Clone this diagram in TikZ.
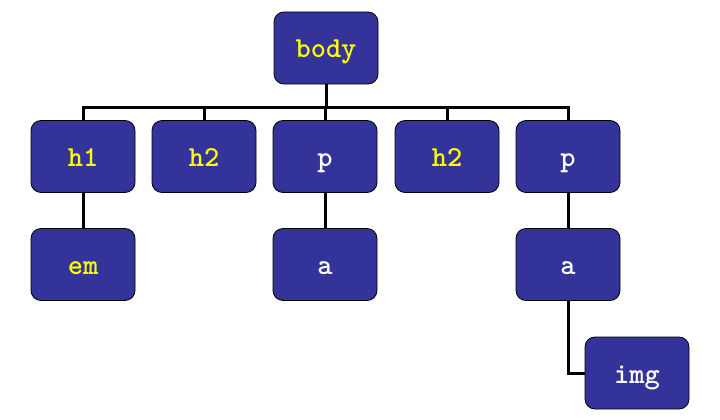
\documentclass[tikz,border=0pt]{standalone}
\usepackage{fontspec}
\definecolor{boxblue}{HTML}{333399}
\definecolor{txtyellow}{HTML}{FFFF00}
\tikzset{
  tag/.style={draw=black, line width=0.8pt, fill=boxblue, rounded corners=10pt,
    minimum width=104pt, minimum height=72pt, inner sep=0pt,
    text height=20pt, text depth=0pt,
    font=\ttfamily\bfseries\fontsize{29}{29}\selectfont},
  ytag/.style={tag, text=txtyellow},
  wtag/.style={tag, text=white},
  link/.style={line width=3pt, black}
}
\begin{document}
\begin{tikzpicture}[x=1pt,y=-1pt]
\useasboundingbox (0,0) rectangle (720,420);
\node[ytag] (body) at (326,48) {body};
\node[ytag] (h1) at (83,156.5) {h1};
\node[ytag] (h2a) at (204,156.5) {h2};
\node[wtag] (p1) at (325,156.5) {p};
\node[ytag] (h2b) at (447,156.5) {h2};
\node[wtag] (p2) at (568,156.5) {p};
\node[ytag] (em) at (83,264.5) {em};
\node[wtag] (a1) at (325,264.5) {a};
\node[wtag] (a2) at (568,264.5) {a};
\node[wtag] (img) at (637,373) {img};
\coordinate (busy) at (0,107);
\draw[link] (body.south) -- (body.south |- busy);
\draw[link] (h1.north) -- (h1.north |- busy) -- (p2.north |- busy) -- (p2.north);
\draw[link] (h2a.north) -- (h2a.north |- busy);
\draw[link] (p1.north) -- (p1.north |- busy);
\draw[link] (h2b.north) -- (h2b.north |- busy);
\draw[link] (h1.south) -- (em.north);
\draw[link] (p1.south) -- (a1.north);
\draw[link] (p2.south) -- (a2.north);
\draw[link] (a2.south) |- (img.west);
\end{tikzpicture}
\end{document}
